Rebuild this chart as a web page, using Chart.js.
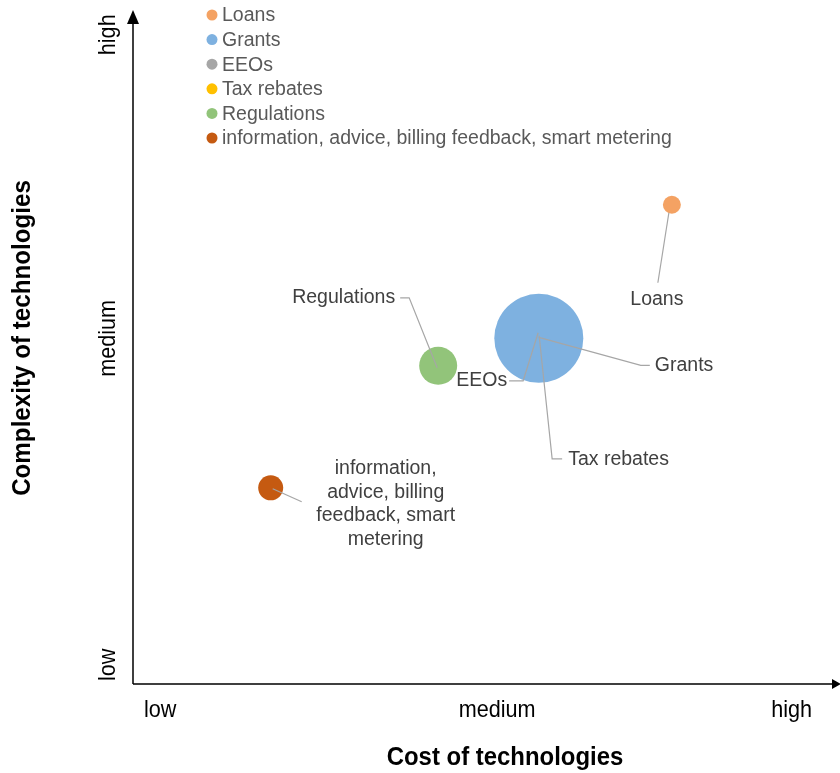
<!DOCTYPE html>
<html lang="en">
<head>
<meta charset="UTF-8">
<title>Cost vs complexity of policy instruments</title>
<script src="https://cdn.jsdelivr.net/npm/chart.js@4.4.0/dist/chart.umd.min.js"></script>
<style>
  html, body { margin: 0; padding: 0; background: #fff; }
  #wrap { position: relative; width: 840px; height: 773px; }
</style>
</head>
<body>
<div id="wrap"><canvas id="chart" width="840" height="773"></canvas></div>
<script>
// data (0-100 scale on both axes)
const seriesNames = ['Loans', 'Grants', 'EEOs', 'Tax rebates', 'Regulations', 'information, advice, billing feedback, smart metering'];
const costValues = [81.4, 61.3, 61.2, 61.2, 46.1, 20.8];
const complexityValues = [75.0, 54.1, 55.9, 55.9, 49.8, 30.7];
const bubbleSizes = [9, 44.5, 7, 2.2, 19, 12.5];
const seriesColors = ['#F4A263', '#7EB1E0', '#A6A6A6', '#FFC000', '#92C47A', '#C55A11'];

const xTickLabels = ['low', 'medium', 'high'];
const xTickValues = [4.1, 55, 99.5];
const yTickLabels = ['low', 'medium', 'high'];
const yTickValues = [3, 54.1, 101.6];

// label text + leader line (pixel offsets from the bubble centre)
const callouts = [
  { lines: ['Loans'], align: 'center', text: [-15, 95], path: [[-3, 8], [-14, 78]] },
  { lines: ['Grants'], align: 'left', text: [116, 27], path: [[0, -1], [102, 27], [111, 27]] },
  { lines: ['EEOs'], align: 'right', text: [-31, 54], path: [[0, 6], [-15, 54], [-29, 54]] },
  { lines: ['Tax rebates'], align: 'left', text: [30, 133], path: [[1, 9], [14, 132], [24, 132]] },
  { lines: ['Regulations'], align: 'right', text: [-43, -68], path: [[-1, 2], [-29, -68], [-38, -68]] },
  { lines: ['information,', 'advice, billing', 'feedback, smart', 'metering'], align: 'center', text: [115, -19], lineGap: 23.5, path: [[2, 1], [31, 14]] }
];

const FONT = '"Liberation Sans", Arial, sans-serif';

const datasets = seriesNames.map((name, i) => ({
  label: name,
  data: [{ x: costValues[i], y: complexityValues[i], r: bubbleSizes[i] }],
  backgroundColor: seriesColors[i],
  borderWidth: 0,
  hoverRadius: 0
}));

const decor = {
  id: 'decor',
  afterDatasetsDraw(chart) {
    const { ctx, chartArea: a, scales: { x, y } } = chart;
    ctx.save();
    // leader lines + labels
    ctx.font = '19.5px ' + FONT;
    ctx.textBaseline = 'middle';
    callouts.forEach((c, i) => {
      const cx = x.getPixelForValue(costValues[i]);
      const cy = y.getPixelForValue(complexityValues[i]);
      ctx.strokeStyle = '#A6A6A6';
      ctx.lineWidth = 1.2;
      ctx.beginPath();
      c.path.forEach((p, k) => {
        if (k === 0) ctx.moveTo(cx + p[0], cy + p[1]);
        else ctx.lineTo(cx + p[0], cy + p[1]);
      });
      ctx.stroke();
      ctx.fillStyle = '#404040';
      ctx.textAlign = c.align;
      const gap = c.lineGap || 0;
      c.lines.forEach((t, k) => ctx.fillText(t, cx + c.text[0], cy + c.text[1] + k * gap));
    });

    // axes with arrowheads
    const ox = a.left, oy = a.bottom;
    ctx.strokeStyle = '#000';
    ctx.fillStyle = '#000';
    ctx.lineWidth = 1.5;
    ctx.beginPath();
    ctx.moveTo(ox, oy);
    ctx.lineTo(ox, 20);
    ctx.moveTo(ox, oy);
    ctx.lineTo(834, oy);
    ctx.stroke();
    ctx.beginPath();
    ctx.moveTo(ox, 10);
    ctx.lineTo(ox - 6, 24);
    ctx.lineTo(ox + 6, 24);
    ctx.closePath();
    ctx.fill();
    ctx.beginPath();
    ctx.moveTo(841, oy);
    ctx.lineTo(832, oy - 5);
    ctx.lineTo(832, oy + 5);
    ctx.closePath();
    ctx.fill();

    // axis level labels
    ctx.fillStyle = '#000';
    ctx.font = '24px ' + FONT;
    ctx.textAlign = 'center';
    ctx.textBaseline = 'middle';
    xTickLabels.forEach((t, i) => {
      ctx.save();
      ctx.translate(x.getPixelForValue(xTickValues[i]), 710);
      ctx.scale(0.9, 1);
      ctx.fillText(t, 0, 0);
      ctx.restore();
    });
    yTickLabels.forEach((t, i) => {
      ctx.save();
      ctx.translate(108, y.getPixelForValue(yTickValues[i]));
      ctx.rotate(-Math.PI / 2);
      ctx.scale(0.9, 1);
      ctx.fillText(t, 0, 0);
      ctx.restore();
    });

    // axis titles
    ctx.font = 'bold 26px ' + FONT;
    ctx.save();
    ctx.translate(505, 758);
    ctx.scale(0.92, 1);
    ctx.fillText('Cost of technologies', 0, 0);
    ctx.restore();
    ctx.save();
    ctx.translate(23, 338);
    ctx.rotate(-Math.PI / 2);
    ctx.scale(0.93, 1);
    ctx.fillText('Complexity of technologies', 0, 0);
    ctx.restore();

    // legend
    ctx.font = '19.5px ' + FONT;
    ctx.textAlign = 'left';
    seriesNames.forEach((name, i) => {
      const ly = 15 + i * 24.6;
      ctx.fillStyle = seriesColors[i];
      ctx.beginPath();
      ctx.arc(212, ly, 5.5, 0, Math.PI * 2);
      ctx.fill();
      ctx.fillStyle = '#595959';
      ctx.fillText(name, 222, ly + 1);
    });
    ctx.restore();
  }
};

new Chart(document.getElementById('chart'), {
  type: 'bubble',
  data: { datasets },
  options: {
    responsive: false,
    animation: false,
    events: [],
    layout: { padding: { left: 133, right: 45, top: 45, bottom: 89 } },
    plugins: { legend: { display: false }, tooltip: { enabled: false } },
    scales: {
      x: { type: 'linear', min: 0, max: 100, display: false },
      y: { type: 'linear', min: 0, max: 100, display: false }
    }
  },
  plugins: [decor]
});
</script>
</body>
</html>
